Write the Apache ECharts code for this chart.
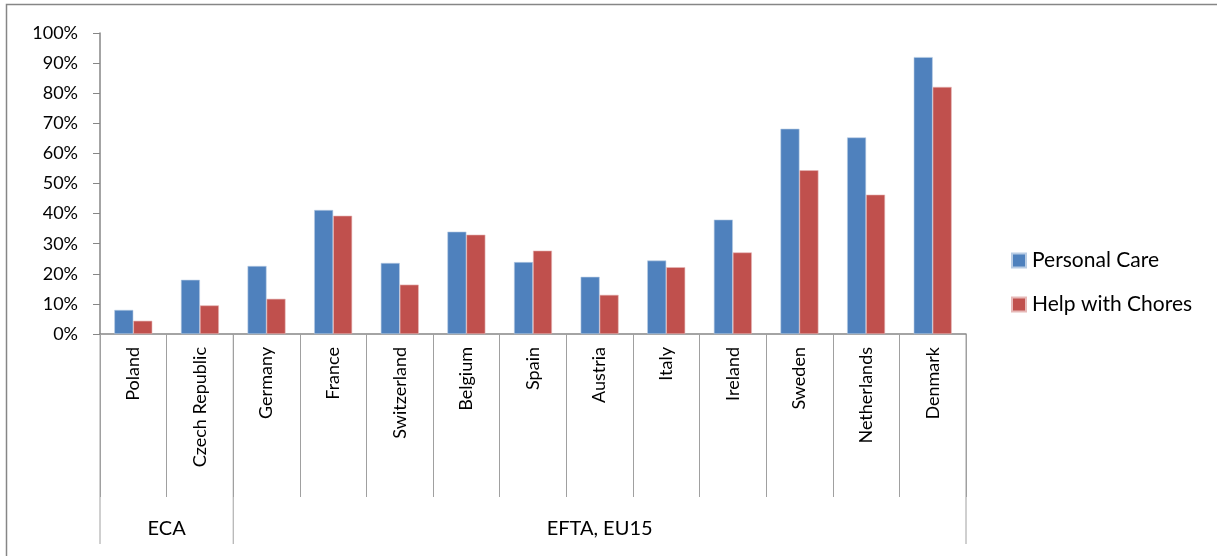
<!DOCTYPE html>
<html><head><meta charset="utf-8">
<script src="https://cdn.jsdelivr.net/npm/echarts@6/dist/echarts.min.js"></script>
<style>html,body{margin:0;padding:0;background:#fff}#c{width:1217px;height:556px}</style>
</head><body><div id="c"></div>
<script>
var categories = ['Poland','Czech Republic','Germany','France','Switzerland','Belgium','Spain','Austria','Italy','Ireland','Sweden','Netherlands','Denmark'];
var personalCare = [8.0, 18.0, 22.6, 41.2, 23.6, 34.0, 23.9, 19.0, 24.4, 38.0, 68.2, 65.3, 92.0];
var helpWithChores = [4.4, 9.5, 11.7, 39.3, 16.4, 33.0, 27.7, 13.0, 22.2, 27.1, 54.4, 46.3, 82.1];
var groupNames = ['ECA', 'EFTA, EU15'];
var groupSizes = [2, 11];
var yTicks = [0,10,20,30,40,50,60,70,80,90,100];

var FONT = 'Lato, "Open Sans", sans-serif';
var chart = echarts.init(document.getElementById('c'));
var option = {
  animation: false,
  backgroundColor: '#fff',
  grid: {left: 100, right: 251, top: 33, bottom: 222},
  legend: {
    orient: 'vertical', left: 1006, top: 245, itemWidth: 14, itemHeight: 14, itemGap: 23,
    icon: 'rect',
    textStyle: {fontFamily: FONT, fontSize: 21, color: '#000', padding: [0,0,0,1]},
    data: ['Personal Care', 'Help with Chores']
  },
  xAxis: {
    type: 'category', data: categories,
    axisLine: {lineStyle: {color: '#868686', width: 1.5}},
    axisTick: {show: true, alignWithLabel: false, interval: 0, length: 163, lineStyle: {color: '#a0a0a0'}},
    axisLabel: {rotate: 90, interval: 0, margin: 13, fontFamily: FONT, fontSize: 18, color: '#000'}
  },
  yAxis: {
    type: 'value', min: yTicks[0], max: yTicks[yTicks.length-1], interval: 10,
    axisLine: {show: true, lineStyle: {color: '#868686', width: 1.5}},
    axisTick: {show: true, length: 7, lineStyle: {color: '#868686'}},
    splitLine: {show: false},
    axisLabel: {formatter: '{value}%', margin: 22, fontFamily: FONT, fontSize: 18, color: '#000'}
  },
  series: [
    {name: 'Personal Care', type: 'bar', data: personalCare, barGap: '0%', barCategoryGap: '43%',
     itemStyle: {color: '#4F81BD', borderColor: '#b8cce4', borderWidth: 0.6}},
    {name: 'Help with Chores', type: 'bar', data: helpWithChores, barGap: '0%', barCategoryGap: '43%',
     itemStyle: {color: '#C0504D', borderColor: '#e6b9b8', borderWidth: 0.6}}
  ]
};
chart.setOption(option);

// group separators and labels, positioned from the category axis
var bw = chart.convertToPixel({xAxisIndex: 0}, 1) - chart.convertToPixel({xAxisIndex: 0}, 0);
var yAxisPx = chart.convertToPixel({yAxisIndex: 0}, 0);
var g = [];
g.push({type: 'rect', shape: {x: 6.5, y: 4.5, width: 1215, height: 600}, style: {fill: 'none', stroke: '#868686', lineWidth: 1.5}, silent: true, z: -1});
var start = 0;
var x0 = chart.convertToPixel({xAxisIndex: 0}, 0) - bw/2;
g.push({type: 'line', shape: {x1: x0, y1: yAxisPx, x2: x0, y2: yAxisPx + 210}, style: {stroke: '#a0a0a0', lineWidth: 1}});
for (var i = 0; i < groupNames.length; i++) {
  var a = chart.convertToPixel({xAxisIndex: 0}, start) - bw/2;
  var b = chart.convertToPixel({xAxisIndex: 0}, start + groupSizes[i] - 1) + bw/2;
  g.push({type: 'line', shape: {x1: b, y1: yAxisPx, x2: b, y2: yAxisPx + 210}, style: {stroke: '#a0a0a0', lineWidth: 1}});
  g.push({type: 'text', x: (a+b)/2, y: yAxisPx + 195, style: {text: groupNames[i], fontFamily: FONT, fontSize: 20, fill: '#000', align: 'center', verticalAlign: 'middle'}});
  start += groupSizes[i];
}
chart.setOption({graphic: g});
</script></body></html>
